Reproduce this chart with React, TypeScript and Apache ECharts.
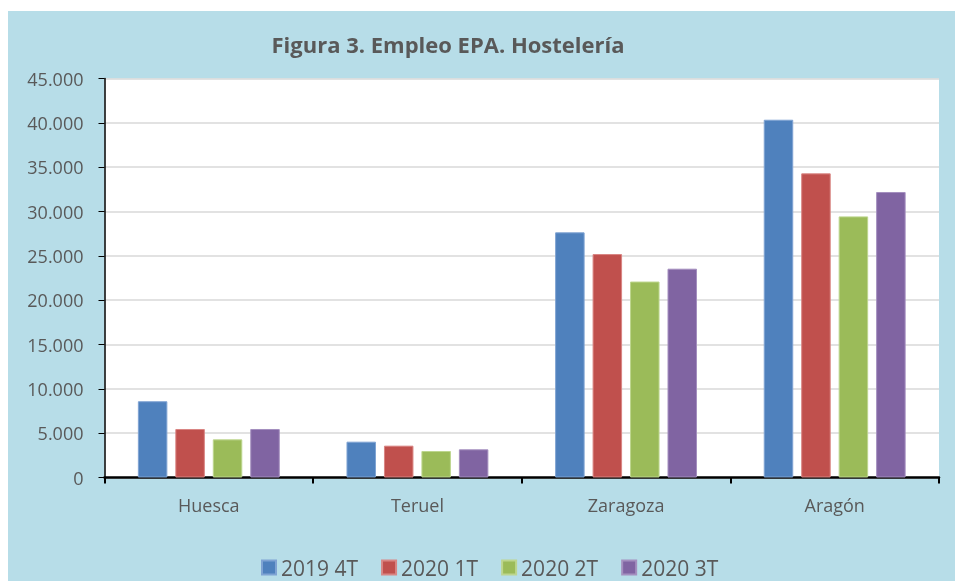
import React, { useEffect, useRef } from "react";
import * as echarts from "echarts";

const categories = ["Huesca", "Teruel", "Zaragoza", "Aragón"];
const seriesNames = ["2019 4T", "2020 1T", "2020 2T", "2020 3T"];
const s2019_4T = [8600, 4040, 27650, 40350];
const s2020_1T = [5470, 3590, 25200, 34300];
const s2020_2T = [4300, 2990, 22100, 29450];
const s2020_3T = [5470, 3180, 23550, 32200];
const seriesValues = [s2019_4T, s2020_1T, s2020_2T, s2020_3T];
const colors = ["#4F81BD", "#C0504D", "#9BBB59", "#8064A2"];
const borders = ["#7FA3D3", "#D98583", "#BDD68E", "#A48FBF"];

const fmt = (v: number) => String(v).replace(/\B(?=(\d{3})+(?!\d))/g, ".");

export default function App() {
  const ref = useRef<HTMLDivElement>(null);
  useEffect(() => {
    const chart = echarts.init(ref.current!, null, { renderer: "svg" });
    const font = "'Open Sans', 'Liberation Sans', sans-serif";
    chart.setOption({
      animation: false,
      textStyle: { fontFamily: font },
      graphic: [
        {
          type: "rect",
          z: -10,
          shape: { x: 8, y: 11, width: 947, height: 570 },
          style: { fill: "#B7DDE8" },
          silent: true,
        },
      ],
      title: {
        text: "Figura 3. Empleo EPA. Hostelería",
        left: 443,
        textAlign: "center",
        top: 27,
        textStyle: { fontFamily: font, fontSize: 22, fontWeight: "bold", color: "#595959", lineHeight: 24 },
      },
      legend: {
        data: seriesNames,
        left: 256,
        top: 552,
        itemWidth: 14,
        itemHeight: 14,
        itemGap: 23,
        icon: "rect",
        textStyle: { fontFamily: font, fontSize: 21, color: "#595959", lineHeight: 21 },
      },
      grid: {
        left: 104.5,
        top: 78.5,
        right: 16,
        height: 399,
        show: true,
        backgroundColor: "#FFFFFF",
        borderWidth: 0,
      },
      xAxis: {
        type: "category",
        data: categories,
        axisLine: { lineStyle: { color: "#000", width: 2.5 } },
        axisTick: { show: true, length: 6, lineStyle: { color: "#000", width: 2 } },
        axisLabel: { fontFamily: font, fontSize: 18, color: "#595959", margin: 18 },
      },
      yAxis: {
        type: "value",
        min: 0,
        max: 45000,
        interval: 5000,
        axisLine: { show: true, lineStyle: { color: "#000", width: 1.5 } },
        axisTick: { show: true, length: 6, lineStyle: { color: "#000", width: 1 } },
        splitLine: { lineStyle: { color: "#D9D9D9", width: 1.5 } },
        axisLabel: {
          fontFamily: font,
          fontSize: 18,
          color: "#595959",
          margin: 21,
          formatter: (v: number) => fmt(v),
        },
      },
      series: seriesNames.map((name, i) => ({
        name,
        type: "bar",
        data: seriesValues[i],
        barWidth: 29.5,
        barGap: "27%",
        itemStyle: { color: colors[i], borderColor: borders[i], borderWidth: 1 },
      })),
    });
    return () => chart.dispose();
  }, []);
  return (
    <div
      ref={ref}
      style={{ position: "fixed", left: 0, top: 0, width: 955, height: 581 }}
    />
  );
}
